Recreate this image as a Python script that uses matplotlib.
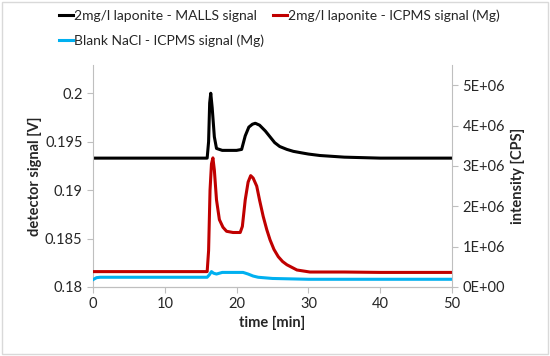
import matplotlib.pyplot as plt
from matplotlib.patches import Rectangle
from matplotlib.ticker import FuncFormatter

# MALLS detector signal [V] (left axis)
t_malls = [0, 15.9, 16.1, 16.25, 16.4, 16.6, 16.9, 17.2, 18, 19, 20, 20.7, 21.2, 21.7,
           22.2, 22.6, 23.2, 24, 24.65, 25.3, 26, 27, 27.9, 29, 30, 31.6, 35, 40, 50]
malls = [0.1933, 0.1933, 0.1950, 0.1990, 0.2000, 0.1985, 0.1955, 0.1943, 0.1941,
         0.1941, 0.1941, 0.1942, 0.1956, 0.1965, 0.1968, 0.1969, 0.1967, 0.1961,
         0.1955, 0.1949, 0.1945, 0.1942, 0.1940, 0.19385, 0.19372, 0.19357, 0.1934,
         0.1933, 0.1933]

# ICPMS laponite signal [CPS] (right axis)
t_icp = [0, 15.9, 16.1, 16.3, 16.5, 16.7, 16.9, 17.2, 17.6, 18.1, 18.6, 19.5, 20.5,
         20.8, 21.2, 21.6, 21.96, 22.3, 22.8, 23.2, 23.7, 24.2, 24.65, 25.2, 25.8,
         26.4, 27.0, 28.4, 30.2, 35, 40, 50]
icp = [0.38e6, 0.38e6, 0.9e6, 2.4e6, 3.05e6, 3.2e6, 2.9e6, 2.16e6, 1.67e6, 1.48e6,
       1.38e6, 1.35e6, 1.35e6, 1.5e6, 2.16e6, 2.6e6, 2.76e6, 2.7e6, 2.5e6, 2.15e6,
       1.75e6, 1.42e6, 1.17e6, 0.93e6, 0.75e6, 0.63e6, 0.55e6, 0.42e6, 0.37e6,
       0.37e6, 0.36e6, 0.36e6]

# ICPMS blank NaCl [CPS] (right axis)
t_blank = [0, 0.5, 1, 5, 15.9, 16.2, 16.5, 16.8, 17.2, 18, 20.9, 21.6, 22.3, 23.0,
           25, 30, 40, 50]
blank = [0.18e6, 0.23e6, 0.24e6, 0.24e6, 0.24e6, 0.3e6, 0.38e6, 0.34e6, 0.32e6,
         0.36e6, 0.36e6, 0.32e6, 0.27e6, 0.24e6, 0.21e6, 0.19e6, 0.19e6, 0.19e6]

plt.rcParams['font.family'] = ['Lato', 'DejaVu Sans']
grey = '#bfbfbf'
txt = '#262626'

fig = plt.figure(figsize=(5.5, 3.56), dpi=100)
ax = fig.add_axes([0.169, 0.194, 0.653, 0.623])
ax2 = ax.twinx()

l1, = ax.plot(t_malls, malls, color='black', lw=2.2, label='2mg/l laponite - MALLS signal')
l2, = ax2.plot(t_icp, icp, color='#c00000', lw=2.2, label='2mg/l laponite - ICPMS signal (Mg)')
l3, = ax2.plot(t_blank, blank, color='#00b0f0', lw=2.2, label='Blank NaCl - ICPMS signal (Mg)')

ax.set_xlim(0, 50)
ax.set_ylim(0.18, 0.2029)
ax2.set_ylim(0, 5.5e6)
ax.set_xticks([0, 10, 20, 30, 40, 50])
ax.set_yticks([0.18, 0.185, 0.19, 0.195, 0.2])
ax.set_yticklabels(['0.18', '0.185', '0.19', '0.195', '0.2'])
ax2.set_yticks([0, 1e6, 2e6, 3e6, 4e6, 5e6])
ax2.yaxis.set_major_formatter(FuncFormatter(lambda v, p: '%dE+%02d' % (round(v / 1e6), 0 if v == 0 else 6)))

for a in (ax, ax2):
    a.spines['top'].set_visible(False)
    for s in ('left', 'right', 'bottom'):
        a.spines[s].set_color(grey)
    a.tick_params(colors=grey, labelcolor=txt, labelsize=10.5, length=4)
ax.spines['right'].set_visible(False)
ax2.spines['left'].set_visible(False)

ax.set_xlabel('time [min]', fontweight='bold', color=txt, fontsize=10.5, labelpad=3)
ax.set_ylabel('detector signal [V]', fontweight='bold', color=txt, fontsize=10.5, labelpad=2)
ax2.set_ylabel('intensity [CPS]', fontweight='bold', color=txt, fontsize=10.5, labelpad=4)

fig.legend(handles=[l1, l3, l2], ncol=2, loc='upper left', bbox_to_anchor=(0.09, 1.0),
           frameon=False, handlelength=1.0, handletextpad=0.1, columnspacing=0.6,
           labelspacing=0.9, fontsize=10, labelcolor=txt, borderaxespad=0.3)

fig.patches.append(Rectangle((0.004, 0.006), 0.992, 0.988, transform=fig.transFigure,
                             fill=False, edgecolor='#d9d9d9', lw=1))

fig.savefig('out.png', dpi=100)
